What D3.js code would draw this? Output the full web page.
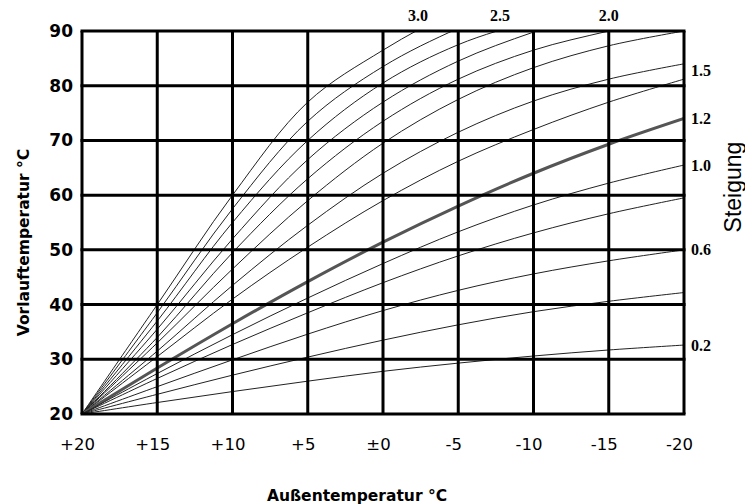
<!DOCTYPE html>
<html>
<head>
<meta charset="utf-8">
<script src="https://cdn.jsdelivr.net/npm/d3@7"></script>
<style>
  body { margin: 0; background: #fff; }
  .tick text { font-family: "DejaVu Sans", sans-serif; fill: #000; }
  .ytick text { font-weight: bold; font-size: 17px; }
  .xtick text { font-size: 16.5px; }
  .title { font-family: "DejaVu Sans", sans-serif; font-weight: bold; font-size: 15.5px; }
  .slope { font-family: "Liberation Serif", serif; font-weight: bold; font-size: 16px; }
  .curve { fill: none; stroke: #222; stroke-width: 1; }
  .curve.main { stroke: #555; stroke-width: 3; }
</style>
</head>
<body>
<div id="chart"></div>
<script>
const width = 745, height = 504;
const margin = ({top: 31, right: 61, bottom: 90, left: 82});

// outside temperature (x) and flow temperature (y)
const outside = [20, 15, 10, 5, 0, -5, -10, -15, -20];
const outsideLabels = ["+20", "+15", "+10", "+5", "\u00b10", "-5", "-10", "-15", "-20"];
const flowTicks = [20, 30, 40, 50, 60, 70, 80, 90];

const k30 = [20, 40, 60, 77, 86.5, 94, 100];
const k28 = [20, 38.5, 57.5, 73.5, 83.5, 90.5, 96];
const k25 = [20, 37, 55, 70, 80.5, 87.5, 92, 96];
const k22 = [20, 35.5, 52, 66.5, 77, 84.5, 89.8, 94];
const k20 = [20, 34, 49.5, 63, 73.5, 81.2, 86.5, 90, 93];
const k18 = [20, 33, 46.5, 59, 69.5, 77.5, 83.3, 87.3, 90];
const k16 = [20, 31.5, 43.5, 54.5, 64, 71.5, 77.2, 81.2, 84];
const k14 = [20, 30.5, 41, 50.5, 59, 66.2, 72, 77, 81.2];
const k12 = [20, 28.4, 36.5, 44.2, 51.4, 58, 64, 69.3, 74];
const k10 = [20, 27.4, 34.5, 41.2, 47.5, 53.3, 58.2, 62.2, 65.5];
const k08 = [20, 26.5, 32.7, 38.5, 44, 48.9, 53.1, 56.6, 59.5];
const k06 = [20, 25, 29.9, 34.6, 38.9, 42.6, 45.6, 48, 50];
const k04 = [20, 23.6, 27.1, 30.4, 33.5, 36.3, 38.7, 40.6, 42.2];
const k02 = [20, 22.1, 24.1, 26, 27.8, 29.3, 30.6, 31.7, 32.6];

const curves = [k30, k28, k25, k22, k20, k18, k16, k14, k12, k10, k08, k06, k04, k02];
const mainCurve = k12;

// labels: the ones leaving through the top, and the ones ending at the right edge
const topLabels = [["3.0", k30], ["2.5", k25], ["2.0", k20]];
const rightLabels = [["1.5", 82.8], ["1.2", 74], ["1.0", 65.5], ["0.6", 50], ["0.2", 32.6]];

const x = d3.scaleLinear()
    .domain([20, -20])
    .range([margin.left, width - margin.right]);

const y = d3.scaleLinear()
    .domain([20, 90])
    .range([height - margin.bottom, margin.top]);

const line = d3.line()
    .x((d, i) => x(outside[i]))
    .y(d => y(d))
    .curve(d3.curveCatmullRom);

// where a curve reaches 90
const exitAt = function(arr) {
  for (let i = 1; i < arr.length; i++) {
    if (arr[i] >= 90) {
      let t = (90 - arr[i-1]) / (arr[i] - arr[i-1]);
      return outside[i-1] + t * (outside[i] - outside[i-1]);
    }
  }
  return outside[outside.length - 1];
};

let svg = d3.select("#chart").append("svg").attr("width", width).attr("height", height);

svg.append("clipPath").attr("id", "plot")
  .append("rect")
    .attr("x", margin.left).attr("y", margin.top)
    .attr("width", width - margin.left - margin.right)
    .attr("height", height - margin.top - margin.bottom);

let g = svg.append("g").attr("clip-path", "url(#plot)");
g.selectAll("path")
  .data(curves)
  .join("path")
    .attr("class", d => d === mainCurve ? "curve main" : "curve")
    .attr("d", line);

// grid
svg.append("g")
  .selectAll("line")
  .data(outside)
  .join("line")
    .attr("x1", d => x(d)).attr("x2", d => x(d))
    .attr("y1", y(20)).attr("y2", y(90))
    .attr("stroke", "#000").attr("stroke-width", 3);

svg.append("g")
  .selectAll("line")
  .data(flowTicks)
  .join("line")
    .attr("x1", x(20) - 1.5).attr("x2", x(-20) + 1.5)
    .attr("y1", d => y(d)).attr("y2", d => y(d))
    .attr("stroke", "#000").attr("stroke-width", 3);

// axes (labels only)
svg.append("g")
    .attr("class", "xtick")
    .attr("transform", `translate(0,${height - margin.bottom + 21})`)
    .call(d3.axisBottom(x).tickValues(outside).tickFormat((d, i) => outsideLabels[i]).tickSize(0))
    .call(g => g.select(".domain").remove())
    .selectAll("text").attr("dx", -5);

svg.append("g")
    .attr("class", "ytick")
    .attr("transform", `translate(${margin.left - 6},0)`)
    .call(d3.axisLeft(y).tickValues(flowTicks).tickSize(0))
    .call(g => g.select(".domain").remove());

// slope labels
svg.append("g")
  .selectAll("text")
  .data(topLabels)
  .join("text")
    .attr("class", "slope")
    .attr("text-anchor", "middle")
    .attr("x", d => x(exitAt(d[1])))
    .attr("y", margin.top - 10)
    .text(d => d[0]);

svg.append("g")
  .selectAll("text")
  .data(rightLabels)
  .join("text")
    .attr("class", "slope")
    .attr("x", x(-20) + 7)
    .attr("y", d => y(d[1]))
    .attr("dy", "0.35em")
    .text(d => d[0]);

// titles
svg.append("text")
    .attr("class", "title")
    .attr("text-anchor", "middle")
    .attr("x", 357)
    .attr("y", height - 3)
    .text("Au\u00dfentemperatur \u00b0C");

svg.append("text")
    .attr("class", "title")
    .attr("text-anchor", "middle")
    .attr("transform", `translate(29,${(y(20) + y(90)) / 2 + 20}) rotate(-90)`)
    .text("Vorlauftemperatur \u00b0C");

svg.append("text")
    .attr("text-anchor", "middle")
    .attr("font-family", "Liberation Sans, Arial, sans-serif")
    .attr("font-size", 23)
    .attr("transform", `translate(741,187) rotate(-90)`)
    .text("Steigung");
</script>
</body>
</html>
